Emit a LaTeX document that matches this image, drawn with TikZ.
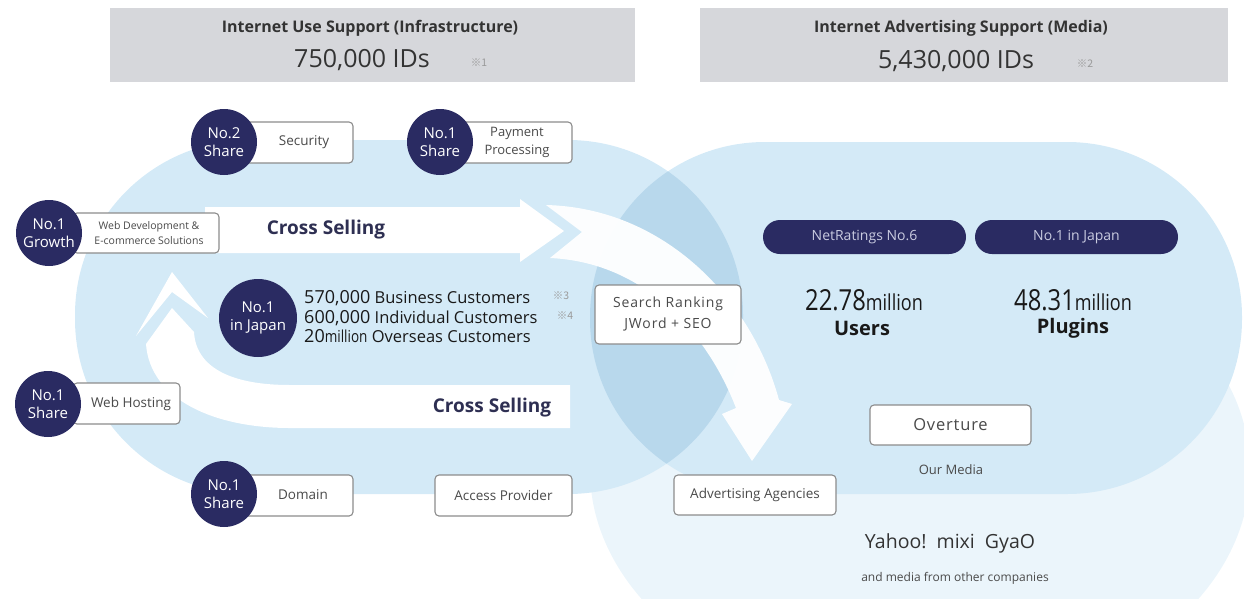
\documentclass[tikz,border=0pt]{standalone}
\usepackage{fontspec}
\setmainfont{Open Sans}
\newfontfamily\condf[FakeStretch=0.82]{Open Sans}
\newfontfamily\cjkf{Noto Sans CJK JP}
\definecolor{navy}{HTML}{2A2B62}
\definecolor{titlegray}{HTML}{D6D7DB}
\definecolor{lblue}{HTML}{D4EAF7}
\definecolor{ovlblue}{HTML}{B8D8EC}
\definecolor{paleblue}{HTML}{EBF5FB}
\definecolor{boxline}{HTML}{8C8C8C}
\definecolor{txt}{HTML}{333333}
\definecolor{boxtxt}{HTML}{4A4A4A}
\definecolor{pilltxt}{HTML}{C9CBE0}
\definecolor{notegray}{HTML}{9A9A9A}
\definecolor{crosstxt}{HTML}{2E2F52}
\newcommand\fsz[2]{\fontsize{#1}{#2}\selectfont}
\begin{document}
\begin{tikzpicture}[x=1pt,y=-1pt,
  circ/.style={circle, fill=navy, text=white, inner sep=0pt, minimum size=66pt, align=center, font=\fsz{15}{18}},
  wbox/.style={draw=boxline, line width=1.1pt, fill=white, rounded corners=4pt, inner sep=0pt},
  btext/.style={text=boxtxt, align=center, inner sep=0pt, font=\fsz{13.5}{18}},
  pill/.style={fill=navy, rounded corners=17pt, minimum width=203pt, minimum height=34pt, inner sep=0pt, text=pilltxt, font=\fsz{14}{16}},
  tbox/.style={fill=titlegray, inner sep=0pt},
  band/.style={fill=white},
  note/.style={text=notegray, inner sep=0pt, font=\cjkf\fsz{10.5}{11}},
  cross/.style={text=crosstxt, inner sep=0pt, font=\bfseries\fsz{19}{21}},
  plain/.style={inner sep=0pt, align=center}
]
\useasboundingbox (0,0) rectangle (1244,598);
\begin{scope}
\clip (0,0) rectangle (1244,598);
% background shapes
\fill[paleblue] (920,470) ellipse [x radius=330pt, y radius=240pt];
\fill[lblue, rounded corners=175pt] (75,140) rectangle (743,494);
\fill[lblue, rounded corners=175pt] (590,142) rectangle (1242,494);
\begin{scope}
\clip[rounded corners=175pt] (75,140) rectangle (743,494);
\fill[ovlblue, rounded corners=175pt] (590,142) rectangle (1242,494);
\end{scope}
% white bands
\fill[band] (205,207) -- (520,207) -- (520,199) -- (564,231) -- (520,262) -- (520,253) -- (205,253) -- cycle;
\fill[band, opacity=0.95] (546,205) .. controls (665,208) and (752,300) .. (779,400) -- (792,404) -- (752,461) -- (722,414) -- (736,408) .. controls (706,330) and (642,262) .. (550,258) -- (582,232) -- cycle;
\fill[band] (570,385) -- (290,385) .. controls (232,385) and (196,368) .. (194,332) -- (172,308) -- (146,344) .. controls (150,400) and (215,428) .. (290,428) -- (570,428) -- cycle;
\fill[band] (172,272) -- (208,318) -- (172,292) -- (136,336) -- cycle;
\end{scope}

% title boxes
\node[tbox, minimum width=525pt, minimum height=74pt] (tb1) at (372.5,45) {};
\node[tbox, minimum width=528pt, minimum height=74pt] (tb2) at (964,45) {};
\node[plain, text=txt, font=\bfseries\fsz{16}{18}] (tb1a) at (370,28) {Internet Use Support (Infrastructure)};
\node[plain, text=txt, font=\fsz{25}{28}] (tb1b) at (362,60) {750,000 IDs};
\node[note] (n1) at (479,63) {※1};
\node[plain, text=txt, font=\bfseries\fsz{16}{18}] (tb2a) at (961,28) {Internet Advertising Support (Media)};
\node[plain, text=txt, font=\fsz{25}{28}] (tb2b) at (956,61) {5,430,000 IDs};
\node[note] (n2) at (1085,64) {※2};

% cross selling labels
\node[cross] (cs1) at (326,230) {Cross Selling};
\node[cross] (cs2) at (492,408) {Cross Selling};

% boxes with circles
\node[wbox, minimum width=116pt, minimum height=41pt] (secb) at (295,142.5) {};
\node[btext] (sect) at (304,142) {Security};
\node[circ] (secc) at (224,142) {No.2\\Share};

\node[wbox, minimum width=117pt, minimum height=41pt] (payb) at (513.5,142.5) {};
\node[btext, font=\fsz{13}{18}] (payt) at (517,142) {Payment\\Processing};
\node[circ] (payc) at (440,142) {No.1\\Share};

\node[wbox, minimum width=146pt, minimum height=40pt] (webb) at (146,233) {};
\node[btext, font=\fsz{10.5}{15}] (webt) at (149,233) {Web Development \&\\E-commerce Solutions};
\node[circ] (webc) at (49,233) {No.1\\Growth};

\node[wbox, minimum width=107pt, minimum height=41pt] (hostb) at (126.5,403.5) {};
\node[btext] (hostt) at (131,404) {Web Hosting};
\node[circ] (hostc) at (48,404) {No.1\\Share};

\node[wbox, minimum width=116pt, minimum height=41pt] (domb) at (295,495.5) {};
\node[btext] (domt) at (303,495) {Domain};
\node[circ] (domc) at (224,494) {No.1\\Share};

\node[wbox, minimum width=137pt, minimum height=41pt] (accb) at (503.5,495.5) {};
\node[btext] (acct) at (503.5,495) {Access Provider};

\node[wbox, minimum width=146pt, minimum height=59pt] (seab) at (668,314.5) {};
\node[btext, font=\addfontfeature{LetterSpace=6}\fsz{14}{21}] (seat) at (668,314) {Search Ranking\\JWord + SEO};

\node[wbox, minimum width=162pt, minimum height=40pt] (advb) at (755,495) {};
\node[btext] (advt) at (755,495) {Advertising Agencies};

\node[wbox, minimum width=161pt, minimum height=40pt] (ovb) at (950.5,425) {};
\node[btext, font=\addfontfeature{LetterSpace=5}\fsz{16.5}{18}] (ovt) at (950.5,425) {Overture};

% center group
\node[circ, minimum size=78pt] (jpc) at (258,318) {No.1\\in Japan};
\node[anchor=west, align=left, inner sep=0pt, text=black!90, font=\fsz{16.5}{19.5}] (cust) at (304,317)
  {{\fsz{18}{19.5}570,000} Business Customers\\{\fsz{18}{19.5}600,000} Individual Customers\\{\fsz{18}{19.5}20}{\condf million} Overseas Customers};
\node[note] (n3) at (561,296) {※3};
\node[note] (n4) at (565,316) {※4};

% right side
\node[pill] (p1) at (864.5,237) {NetRatings No.6};
\node[pill] (p2) at (1076.5,237) {No.1 in Japan};
\node[plain, text=black!90] (u1) at (864,300) {{\condf\fsz{29}{30}22.78}{\condf\fsz{22}{30}million}};
\node[plain, text=black!90, font=\bfseries\fsz{20}{22}] (u2) at (862,328) {Users};
\node[plain, text=black!90] (g1) at (1073,300) {{\condf\fsz{29}{30}48.31}{\condf\fsz{22}{30}million}};
\node[plain, text=black!90, font=\bfseries\fsz{20}{22}] (g2) at (1073,328) {Plugins};

\node[plain, text=boxtxt, font=\fsz{13}{15}] (om) at (951,470) {Our Media};
\node[plain, text=txt, font=\fsz{19.5}{22}] (ym) at (950,543) {Yahoo!\ \ mixi\ \ GyaO};
\node[plain, text=boxtxt, font=\fsz{12}{14}] (oc) at (955,578) {and media from other companies};
\end{tikzpicture}
\end{document}
